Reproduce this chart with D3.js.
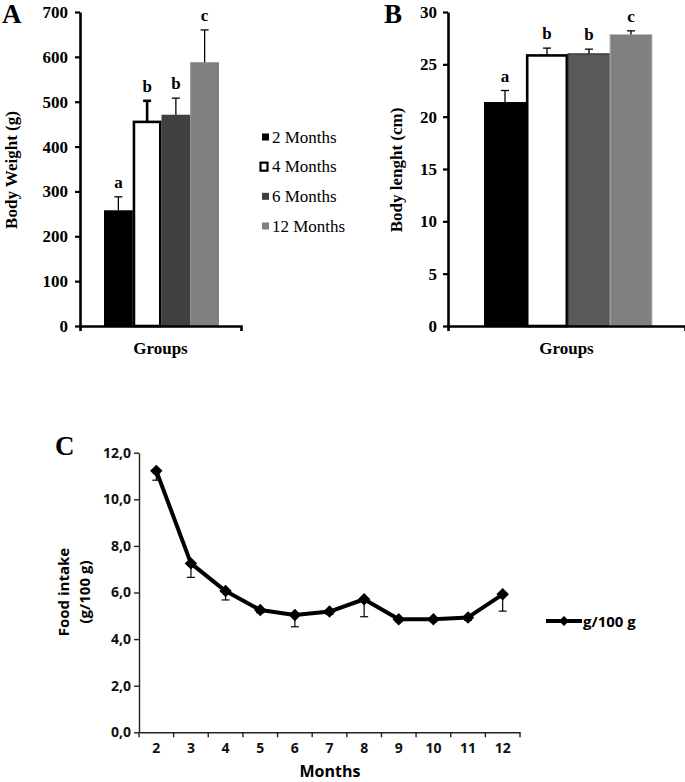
<!DOCTYPE html>
<html lang="en">
<head>
<meta charset="UTF-8">
<title>Body weight, body length and food intake</title>
<script src="https://d3js.org/d3.v7.min.js"></script>
<style>
  body { margin: 0; background: #fff; }
  .serif { font-family: "Liberation Serif", "Times New Roman", serif; font-weight: bold; }
  .sans { font-family: "Open Sans", "Liberation Sans", sans-serif; font-weight: bold; }
</style>
</head>
<body>
<svg width="685" height="782"></svg>
<script>
// data
var groups = ["2 Months", "4 Months", "6 Months", "12 Months"];
var weight = [258, 455, 471, 588];
var weightErr = [30, 47, 37, 72];
var weightLetters = ["a", "b", "b", "c"];
var bodyLength = [21.4, 25.85, 26.0, 27.85];
var lengthErr = [1.1, 0.7, 0.45, 0.35];
var lengthLetters = ["a", "b", "b", "c"];
var weightTicks = [0, 100, 200, 300, 400, 500, 600, 700];
var lengthTicks = [0, 5, 10, 15, 20, 25, 30];

var months = [2, 3, 4, 5, 6, 7, 8, 9, 10, 11, 12];
var intake = [11.22, 7.25, 6.06, 5.25, 5.03, 5.18, 5.71, 4.85, 4.85, 4.93, 5.92];
var intakeErr = [0.4, 0.6, 0.38, 0.12, 0.5, 0.12, 0.75, 0.1, 0.1, 0.12, 0.72];
var intakeTicks = [0, 2, 4, 6, 8, 10, 12];

var fillsA = ["#000000", "#ffffff", "#404040", "#808080"];
var fillsB = ["#000000", "#ffffff", "#595959", "#808080"];

var svg = d3.select("svg");

// ---------- bar panel helper (A and B) ----------
function barPanel(opt) {
  var g = svg.append("g").attr("class", "serif");
  var y = d3.scaleLinear().domain(opt.domain).range([326, 12]);
  var x = d3.scaleBand().domain(groups).range(opt.barRange).padding(0);

  // bars
  g.selectAll("rect.bar")
    .data(opt.values)
    .enter().append("rect")
    .attr("class", "bar")
    .attr("x", function(d, i) { return x(groups[i]) + (i == 1 ? 1.2 : 0); })
    .attr("width", function(d, i) { return x.bandwidth() - (i == 1 ? 2.4 : 0); })
    .attr("y", function(d) { return y(d); })
    .attr("height", function(d) { return y(0) - y(d); })
    .attr("fill", function(d, i) { return opt.fills[i]; })
    .attr("stroke", function(d, i) { return i == 1 ? "#000" : (opt.strokes ? opt.strokes[i] : "none"); })
    .attr("stroke-width", function(d, i) { return i == 1 ? 2.6 : 1; });

  // error bars (upper only)
  var eb = g.selectAll("g.err")
    .data(opt.values)
    .enter().append("g").attr("class", "err")
    .attr("stroke", "#000")
    .attr("stroke-width", function(d, i) { return (i == 1 && opt.thickWhite) ? 2.6 : 1.3; });
  eb.append("line")
    .attr("x1", function(d, i) { return x(groups[i]) + x.bandwidth() / 2; })
    .attr("x2", function(d, i) { return x(groups[i]) + x.bandwidth() / 2; })
    .attr("y1", function(d) { return y(d); })
    .attr("y2", function(d, i) { return y(d + opt.err[i]); });
  eb.append("line")
    .attr("x1", function(d, i) { return x(groups[i]) + x.bandwidth() / 2 - 4; })
    .attr("x2", function(d, i) { return x(groups[i]) + x.bandwidth() / 2 + 4; })
    .attr("y1", function(d, i) { return y(d + opt.err[i]); })
    .attr("y2", function(d, i) { return y(d + opt.err[i]); });

  // significance letters
  g.selectAll("text.letter")
    .data(opt.values)
    .enter().append("text")
    .attr("class", "letter")
    .attr("x", function(d, i) { return x(groups[i]) + x.bandwidth() / 2; })
    .attr("y", function(d, i) { return y(d + opt.err[i]) - 9; })
    .attr("text-anchor", "middle")
    .style("font-size", "17px")
    .text(function(d, i) { return opt.letters[i]; });

  // y axis
  var yAxis = g.append("g")
    .attr("transform", "translate(" + opt.axisX + ",0)")
    .call(d3.axisLeft(y).tickValues(opt.ticks).tickSizeInner(5).tickSizeOuter(0).tickPadding(opt.pad));
  yAxis.select(".domain").attr("stroke-width", 2.6);
  yAxis.selectAll(".tick line").attr("stroke-width", 2.2);
  yAxis.selectAll("text").attr("class", "serif").style("font-size", "17px").attr("fill", "#000");

  // x axis
  var xs = d3.scaleLinear().domain([0, 1]).range([opt.axisX, opt.axisEnd]);
  var xAxis = g.append("g")
    .attr("transform", "translate(0,326)")
    .call(d3.axisBottom(xs).tickValues([]).tickSizeOuter(5));
  xAxis.select(".domain").attr("stroke-width", 2.6);

  g.append("text")
    .attr("x", (opt.axisX + opt.axisEnd) / 2)
    .attr("y", 354)
    .attr("text-anchor", "middle")
    .style("font-size", "17px")
    .text("Groups");

  g.append("text")
    .attr("transform", "translate(" + opt.titleX + ",170) rotate(-90)")
    .attr("text-anchor", "middle")
    .style("font-size", "17px")
    .text(opt.title);

  g.append("text")
    .attr("x", opt.letterX)
    .attr("y", 23)
    .style("font-size", "27px")
    .text(opt.panel);
}

barPanel({
  panel: "A", letterX: 2, values: weight, err: weightErr, letters: weightLetters,
  domain: [0, 700], ticks: weightTicks, barRange: [104, 219], axisX: 80, axisEnd: 241,
  fills: fillsA, pad: 7, title: "Body Weight (g)", titleX: 17, thickWhite: true
});

barPanel({
  panel: "B", letterX: 384, values: bodyLength, err: lengthErr, letters: lengthLetters,
  domain: [0, 30], ticks: lengthTicks, barRange: [484, 652], axisX: 448, axisEnd: 685,
  fills: fillsB, strokes: ["none", "#000", "#222", "#bbb"], pad: 6, title: "Body lenght (cm)", titleX: 402
});

// legend for A and B
var leg = svg.append("g").attr("class", "serif");
var legY = d3.scalePoint().domain(groups).range([137, 226]);
leg.selectAll("rect")
  .data(groups)
  .enter().append("rect")
  .attr("x", function(d, i) { return i == 1 ? 260.5 : 262; })
  .attr("y", function(d, i) { return legY(d) - (i == 1 ? 4 : 3.5); })
  .attr("width", 7)
  .attr("height", function(d, i) { return i == 1 ? 8 : 7; })
  .attr("fill", function(d, i) { return fillsA[i]; })
  .attr("stroke", function(d, i) { return i == 1 ? "#000" : "none"; })
  .attr("stroke-width", 2.2);
leg.selectAll("text")
  .data(groups)
  .enter().append("text")
  .attr("x", 272)
  .attr("y", function(d) { return legY(d) + 5.5; })
  .style("font-weight", "normal")
  .style("font-size", "17px")
  .text(function(d) { return d; });

// ---------- panel C ----------
var gc = svg.append("g").attr("class", "sans");
var xc = d3.scaleBand().domain(months).range([139, 520]).padding(0);
var yc = d3.scaleLinear().domain([0, 12]).range([732.3, 452.7]);

var yAxisC = gc.append("g")
  .attr("transform", "translate(139,0)")
  .call(d3.axisLeft(yc).tickValues(intakeTicks).tickSizeInner(5).tickSizeOuter(0).tickPadding(3)
    .tickFormat(function(d) { return d.toFixed(1).replace(".", ","); }));
yAxisC.select(".domain").attr("stroke", "#222").attr("stroke-width", 1.4);
yAxisC.selectAll(".tick line").attr("stroke", "#222").attr("stroke-width", 1.4);
yAxisC.selectAll("text").attr("class", "sans").style("font-size", "14px").attr("fill", "#111");

var xAxisC = gc.append("g")
  .attr("transform", "translate(0,732.3)")
  .call(d3.axisBottom(xc).tickSize(0).tickPadding(11));
xAxisC.select(".domain").attr("stroke", "#222").attr("stroke-width", 1.4);
xAxisC.selectAll("text").attr("class", "sans").style("font-size", "14px").attr("fill", "#111");
// tick marks sit on the band edges
xAxisC.selectAll("line.edge")
  .data(months.map(function(m) { return xc(m); }).concat([xc.range()[1]]))
  .enter().append("line")
  .attr("class", "edge")
  .attr("x1", function(d) { return d; })
  .attr("x2", function(d) { return d; })
  .attr("y1", 0).attr("y2", 5)
  .attr("stroke", "#222").attr("stroke-width", 1.4);

function cx(i) { return xc(months[i]) + xc.bandwidth() / 2; }

// error bars (minus only)
var ebc = gc.selectAll("g.errc")
  .data(intake)
  .enter().append("g").attr("class", "errc")
  .attr("stroke", "#000").attr("stroke-width", 1.2);
ebc.append("line")
  .attr("x1", function(d, i) { return cx(i); })
  .attr("x2", function(d, i) { return cx(i); })
  .attr("y1", function(d) { return yc(d); })
  .attr("y2", function(d, i) { return yc(d - intakeErr[i]); });
ebc.append("line")
  .attr("x1", function(d, i) { return cx(i) - 4; })
  .attr("x2", function(d, i) { return cx(i) + 4; })
  .attr("y1", function(d, i) { return yc(d - intakeErr[i]); })
  .attr("y2", function(d, i) { return yc(d - intakeErr[i]); });

var line = d3.line()
  .x(function(d, i) { return cx(i); })
  .y(function(d) { return yc(d); });
gc.append("path")
  .datum(intake)
  .attr("d", line)
  .attr("fill", "none")
  .attr("stroke", "#000")
  .attr("stroke-width", 4)
  .attr("stroke-linejoin", "round");

var diamond = d3.symbol().type(d3.symbolSquare).size(78);
gc.selectAll("path.mk")
  .data(intake)
  .enter().append("path")
  .attr("class", "mk")
  .attr("d", diamond)
  .attr("transform", function(d, i) { return "translate(" + cx(i) + "," + yc(d) + ") rotate(45)"; })
  .attr("fill", "#000");

// legend C
gc.append("line")
  .attr("x1", 546).attr("x2", 582).attr("y1", 621).attr("y2", 621)
  .attr("stroke", "#000").attr("stroke-width", 4);
gc.append("path")
  .attr("d", d3.symbol().type(d3.symbolSquare).size(50))
  .attr("transform", "translate(564,621) rotate(45)")
  .attr("fill", "#000");
gc.append("text")
  .attr("x", 583).attr("y", 627)
  .style("font-size", "15px")
  .text("g/100 g");

// titles C
gc.append("text")
  .attr("transform", "translate(69,592) rotate(-90)")
  .attr("text-anchor", "middle")
  .style("font-size", "15px")
  .text("Food intake");
gc.append("text")
  .attr("transform", "translate(90,592) rotate(-90)")
  .attr("text-anchor", "middle")
  .style("font-size", "15px")
  .text("(g/100 g)");
gc.append("text")
  .attr("x", 330).attr("y", 777)
  .attr("text-anchor", "middle")
  .style("font-size", "16px")
  .text("Months");
gc.append("text")
  .attr("class", "serif")
  .attr("x", 55).attr("y", 455)
  .style("font-size", "27px")
  .text("C");
</script>
</body>
</html>
